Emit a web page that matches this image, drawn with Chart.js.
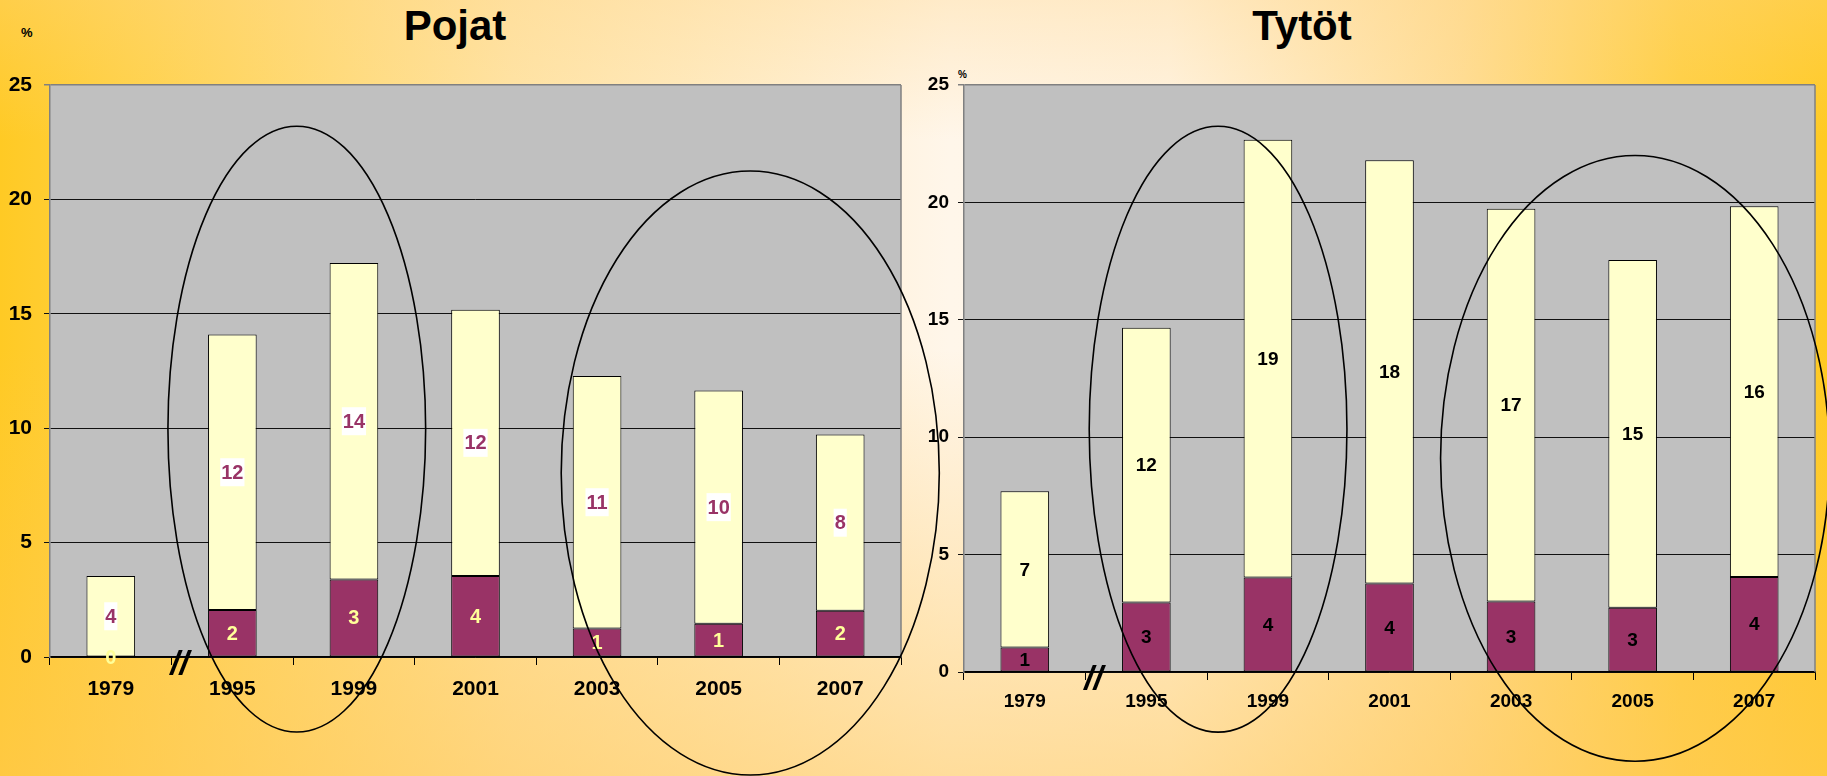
<!DOCTYPE html>
<html>
<head>
<meta charset="utf-8">
<script src="https://cdn.jsdelivr.net/npm/chart.js@4/dist/chart.umd.min.js"></script>
<style>
html,body{margin:0;padding:0;}
body{
width:1827px;height:776px;overflow:hidden;position:relative;
font-family:"Liberation Sans",Arial,sans-serif;
background:
linear-gradient(to bottom, rgba(255,214,140,0.35) 0%, rgba(255,255,255,0) 18%, rgba(255,205,100,0) 45%, rgba(255,200,90,0.55) 100%),
linear-gradient(to right, #ffca24 0%, #ffd144 7%, #ffe4a6 28%, #fff6ea 52%, #fff4e4 64%, #ffdd94 80%, #ffcf3e 92%, #ffca22 100%);
}
canvas{position:absolute;top:0;}
#boysCanvas{left:0;}
#girlsCanvas{left:915px;}
#overlay{left:0;pointer-events:none;}
.title{position:absolute;top:2px;font-weight:bold;font-size:42px;color:#000;transform:translateX(-50%);}
.pct{position:absolute;font-weight:bold;color:#000;}
</style>
</head>
<body>

<div class="title" style="left:455px;">Pojat</div>
<div class="title" style="left:1302px;">Tytöt</div>
<div class="pct" style="left:21px;top:25px;font-size:13px;">%</div>
<div class="pct" style="left:958px;top:69px;font-size:10px;">%</div>

<canvas id="boysCanvas" width="915" height="776"></canvas>
<canvas id="girlsCanvas" width="912" height="776"></canvas>
<canvas id="overlay" width="1827" height="776"></canvas>

<script>
/* =========================
   DATA
========================= */
var years = ["1979","1995","1999","2001","2003","2005","2007"];

var boysBottom  = [0, 2.05, 3.39, 3.54, 1.25, 1.45, 2.02];
var boysTop     = [3.54, 12.05, 13.83, 11.64, 11.03, 10.2, 7.7];

var girlsBottom = [1.04, 2.96, 4.02, 3.77, 3.0, 2.74, 4.05];
var girlsTop    = [6.66, 11.7, 18.65, 18.02, 16.73, 14.81, 15.79];

var yTicks = [0, 5, 10, 15, 20, 25];

var purple = "#993366";
var cream  = "#ffffcc";

/* =========================
   PLUGINS
========================= */
var plotBackground = {
id:"plotBackground",
beforeDraw:function(chart){
var a = chart.chartArea, ctx = chart.ctx;
ctx.save();
ctx.fillStyle = "#c0c0c0";
ctx.fillRect(a.left, a.top, a.right - a.left, a.bottom - a.top);
ctx.restore();
},
afterDraw:function(chart){
var a = chart.chartArea, ctx = chart.ctx;
ctx.save();
ctx.strokeStyle = "#808080";
ctx.lineWidth = 1.5;
ctx.beginPath();
ctx.moveTo(a.right, a.top);
ctx.lineTo(a.right, a.bottom);
ctx.stroke();
ctx.restore();
}
};

// numbers inside the bar segments
var barLabels = {
id:"barLabels",
afterDatasetsDraw:function(chart, args, opts){
var ctx = chart.ctx;
ctx.save();
ctx.font = "bold " + opts.size + "px 'Liberation Sans', Arial, sans-serif";
ctx.textAlign = "center";
ctx.textBaseline = "middle";
chart.data.datasets.forEach(function(ds, di){
var meta = chart.getDatasetMeta(di);
meta.data.forEach(function(bar, i){
var p = bar.getProps(["x","y","base"], true);
var cy = (p.y + p.base) / 2;
var txt = String(Math.round(ds.data[i]));
var st = opts.styles[di];
if(st.box){
var w = ctx.measureText(txt).width + 2;
ctx.fillStyle = st.box;
ctx.fillRect(p.x - w/2, cy - 14, w, 28);
}
ctx.fillStyle = st.color;
ctx.fillText(txt, p.x, cy + 1);
});
});
ctx.restore();
}
};

/* =========================
   CHART BUILDER
========================= */
function makeChart(id, bottom, top, cfg){

return new Chart(document.getElementById(id).getContext("2d"),{
type:"bar",
data:{
labels:years,
datasets:[
{data:bottom, backgroundColor:purple, borderColor:"#000", borderWidth:1, borderSkipped:false},
{data:top, backgroundColor:cream, borderColor:"#000", borderWidth:1, borderSkipped:false}
]
},
options:{
responsive:false,
animation:false,
events:[],
layout:{padding:{top:85, left:0, right:cfg.padRight, bottom:0}},
datasets:{bar:{barPercentage:0.8, categoryPercentage:0.5}},
plugins:{
legend:{display:false},
tooltip:{enabled:false},
barLabels:{size:cfg.labelSize, styles:cfg.labelStyles}
},
scales:{
x:{
stacked:true,
afterFit:function(s){ s.height = cfg.xHeight; },
grid:{offset:true, drawOnChartArea:false, drawTicks:true, tickLength:8, color:"#000"},
border:{color:"#000", width:1.5},
ticks:{color:"#000", padding:cfg.xPad, font:{size:cfg.tickSize, weight:"bold", family:"'Liberation Sans', Arial, sans-serif"}}
},
y:{
stacked:true,
min:0,
max:25,
afterFit:function(s){ s.width = cfg.yWidth; },
afterBuildTicks:function(s){ s.ticks = yTicks.map(function(v){ return {value:v}; }); },
grid:{
tickLength:6,
color:function(c){ return c.tick && c.tick.value === 25 ? "#808080" : "#111"; },
lineWidth:function(c){ return c.tick && c.tick.value === 25 ? 1.5 : 1; }
},
border:{color:"#808080", width:1.5},
ticks:{color:"#000", padding:cfg.yPad, font:{size:cfg.tickSize, weight:"bold", family:"'Liberation Sans', Arial, sans-serif"}}
}
}
},
plugins:[plotBackground, barLabels]
});

}

var boysChart = makeChart("boysCanvas", boysBottom, boysTop, {
padRight:14, xHeight:119, yWidth:50, xPad:12, yPad:12, tickSize:21, labelSize:20,
labelStyles:[{color:"#ffff99"}, {color:purple, box:"#ffffff"}]
});

var girlsChart = makeChart("girlsCanvas", girlsBottom, girlsTop, {
padRight:12, xHeight:104, yWidth:49, xPad:10, yPad:9, tickSize:19, labelSize:19,
labelStyles:[{color:"#000"}, {color:"#000"}]
});

/* =========================
   OVERLAY: ellipses and axis breaks
========================= */
// ellipse centre and radii in category / value units of each chart
var circles = [
{chart:boysChart,  offset:0,   cx:1.53, cy:9.96, rx:1.06, ry:13.24},
{chart:boysChart,  offset:0,   cx:5.26, cy:8.04, rx:1.555, ry:13.2},
{chart:girlsChart, offset:915, cx:1.59, cy:10.34, rx:1.06, ry:12.9},
{chart:girlsChart, offset:915, cx:5.02, cy:9.1, rx:1.6, ry:12.9}
];

var octx = document.getElementById("overlay").getContext("2d");
octx.strokeStyle = "#000";
octx.lineWidth = 1.6;

circles.forEach(function(c){
var xs = c.chart.scales.x, ys = c.chart.scales.y;
var px = xs.getPixelForValue(c.cx) + c.offset;
var py = ys.getPixelForValue(c.cy);
var prx = xs.getPixelForValue(c.cx + c.rx) - xs.getPixelForValue(c.cx);
var pry = ys.getPixelForValue(0) - ys.getPixelForValue(c.ry);
octx.beginPath();
octx.ellipse(px, py, prx, pry, 0, 0, Math.PI*2);
octx.stroke();
});

// "//" break between 1979 and 1995
[{chart:boysChart, offset:0, size:34}, {chart:girlsChart, offset:915, size:34}].forEach(function(b){
var x = b.chart.scales.x.getPixelForValue(0.5) + b.offset + 8;
var y = b.chart.chartArea.bottom + 8;
octx.font = "italic bold " + b.size + "px 'Liberation Sans', Arial, sans-serif";
octx.fillStyle = "#000";
octx.textAlign = "center";
octx.textBaseline = "middle";
octx.fillText("//", x, y);
});
</script>
</body>
</html>
